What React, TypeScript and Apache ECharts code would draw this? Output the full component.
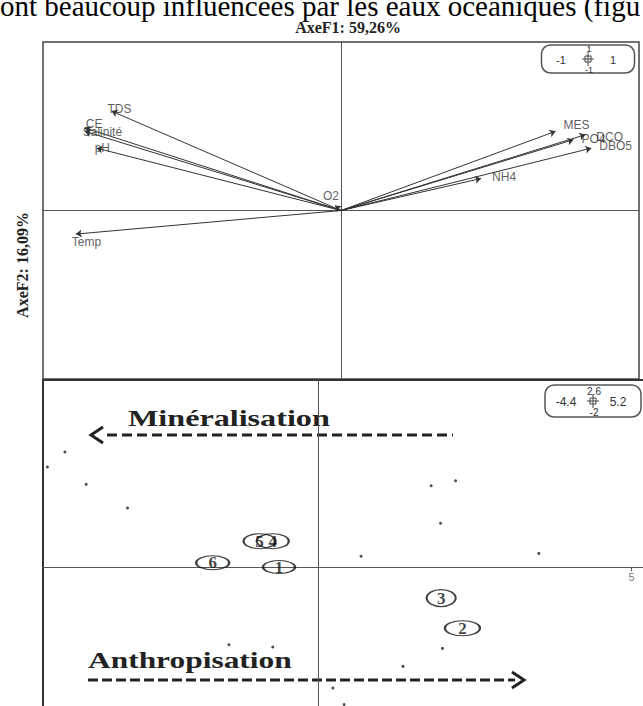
import React, { useEffect, useRef } from 'react';
import * as echarts from 'echarts';

// ---- Data: variables on the correlation circle (F1 x F2) ----
const VARIABLES = ['TDS', 'CE', 'Salinité', 'pH', 'Temp', 'O2', 'MES', 'DCO', 'PO4', 'DBO5', 'NH4'];
const VAR_F1 = [-0.77, -0.86, -0.86, -0.82, -0.89, -0.02, 0.72, 0.82, 0.78, 0.84, 0.47];
const VAR_F2 = [0.59, 0.49, 0.47, 0.37, -0.14, 0.03, 0.47, 0.45, 0.42, 0.37, 0.19];

// ---- Data: labelled stations (individuals) ----
const STATIONS = ['5', '4', '6', '1', '3', '2'];
const STATION_F1 = [-0.94, -0.73, -1.69, -0.63, 1.96, 2.3];
const STATION_F2 = [0.36, 0.36, 0.06, 0.0, -0.43, -0.85];

// ---- Data: unlabelled observations ----
const OBS_F1 = [-4.05, -4.33, -3.71, -3.05, 1.8, 2.19, 1.95, 0.68, 3.52, -1.43, -0.73, 1.98, 1.35, 0.23, 0.41];
const OBS_F2 = [1.6, 1.39, 1.15, 0.82, 1.13, 1.2, 0.61, 0.15, 0.19, -1.08, -1.11, -1.13, -1.38, -1.68, -1.91];

// ---- Axis ranges / ticks ----
const CIRCLE_RANGE = [-1, 1];
const F1_RANGE = [-4.4, 5.2];
const F2_RANGE = [-2, 2.6];
const F1_TICKS = [5];

// ---- Texts ----
const HEADER = 'ont beaucoup influencées par les eaux océaniques (figu';
const AXIS_F1_TITLE = 'AxeF1: 59,26%';
const AXIS_F2_TITLE = 'AxeF2: 16,09%';
const ARROW_LEFT_TEXT = 'Minéralisation';
const ARROW_RIGHT_TEXT = 'Anthropisation';

// ---- Styles (label offsets in px, ellipse sizes in px) ----
const VAR_LABEL_OFFSET: Record<string, [number, number]> = {
  TDS: [-4, -2], CE: [1, -4], 'Salinité': [-2, 1], pH: [-2, 0], Temp: [-4, 8], O2: [-12, -9],
  MES: [8, -6], DCO: [11, 2], PO4: [8, -1], DBO5: [8, -2], NH4: [11, -1],
};
const STATION_SIZE: Record<string, [number, number]> = {
  '5': [32, 15], '4': [32, 15], '6': [33, 14], '1': [32, 13], '3': [29, 17], '2': [35, 15],
};

const SERIF = "'Liberation Serif', 'Times New Roman', serif";
const SANS = "'Liberation Sans', Arial, sans-serif";
const ELLIPSE = 'path://M0,10A10,10,0,1,1,20,10A10,10,0,1,1,0,10Z';

export default function App() {
  const ref = useRef<HTMLDivElement>(null);

  useEffect(() => {
    const chart = echarts.init(ref.current!, null, { renderer: 'svg' });

    const plainAxis = (grid: number, range: number[]) => ({
      gridIndex: grid,
      type: 'value',
      min: range[0],
      max: range[1],
      axisLine: { show: true, onZero: true, lineStyle: { color: '#555', width: 1 } },
      axisTick: { show: false },
      axisLabel: { show: false },
      splitLine: { show: false },
    });

    const fmt = (v: number) => String(v);

    const scaleBox = (cx: number, cy: number, w: number, h: number, l: string, r: string, t: string, b: string, fs: number) => [
      { type: 'rect', shape: { x: cx - w / 2, y: cy - h / 2, width: w, height: h, r: 9 }, style: { fill: 'none', stroke: '#555', lineWidth: 1.5 } },
      { type: 'text', x: cx - 27, y: cy + 1, style: { text: l, fontSize: fs, fontFamily: SANS, fill: '#333', align: 'center', verticalAlign: 'middle' } },
      { type: 'text', x: cx + 25, y: cy + 1, style: { text: r, fontSize: fs, fontFamily: SANS, fill: '#333', align: 'center', verticalAlign: 'middle' } },
      { type: 'text', x: cx + 1, y: cy - 10, style: { text: t, fontSize: fs - 2, fontFamily: SANS, fill: '#333', align: 'center', verticalAlign: 'middle' } },
      { type: 'text', x: cx + 1, y: cy + 11, style: { text: b, fontSize: fs - 2, fontFamily: SANS, fill: '#333', align: 'center', verticalAlign: 'middle' } },
      { type: 'line', shape: { x1: cx - 6, y1: cy, x2: cx + 6, y2: cy }, style: { stroke: '#444', lineWidth: 1 } },
      { type: 'line', shape: { x1: cx, y1: cy - 7, x2: cx, y2: cy + 7 }, style: { stroke: '#444', lineWidth: 1 } },
      { type: 'rect', shape: { x: cx - 3, y: cy - 3, width: 6, height: 6 }, style: { fill: 'none', stroke: '#444', lineWidth: 1 } },
    ];

    const option: any = {
      animation: false,
      backgroundColor: '#fff',
      grid: [
        { left: 43, top: 42, width: 596, height: 337, show: true, borderColor: '#444', borderWidth: 1.5, backgroundColor: 'transparent', outerBoundsMode: 'none', containLabel: false },
        { left: 43, top: 380, width: 601, height: 331, show: true, borderColor: '#333', borderWidth: 2, backgroundColor: 'transparent', outerBoundsMode: 'none', containLabel: false },
      ],
      xAxis: [
        plainAxis(0, CIRCLE_RANGE),
        {
          ...plainAxis(1, F1_RANGE),
          axisTick: { show: true, customValues: F1_TICKS, length: 4, lineStyle: { color: '#555' } },
        },
      ],
      yAxis: [plainAxis(0, CIRCLE_RANGE), plainAxis(1, F2_RANGE)],
      series: [
        {
          type: 'lines',
          coordinateSystem: 'cartesian2d',
          xAxisIndex: 0,
          yAxisIndex: 0,
          symbol: ['none', 'arrow'],
          symbolSize: 6,
          lineStyle: { color: '#333', width: 1, opacity: 1 },
          data: VARIABLES.map((n, i) => ({ name: n, coords: [[0, 0], [VAR_F1[i], VAR_F2[i]]] })),
          silent: true,
          z: 3,
        },
        {
          type: 'scatter',
          xAxisIndex: 0,
          yAxisIndex: 0,
          symbolSize: 0,
          itemStyle: { color: 'rgba(0,0,0,0)' },
          data: VARIABLES.map((n, i) => ({
            name: n,
            value: [VAR_F1[i], VAR_F2[i]],
            label: { position: VAR_LABEL_OFFSET[n] },
          })),
          label: {
            show: true,
            formatter: '{b}',
            align: 'left',
            verticalAlign: 'middle',
            fontFamily: SANS,
            fontSize: 12,
            color: '#333',
          },
          z: 4,
        },
        {
          // tick label(s) of the F1 axis, placed on the zero line
          type: 'scatter',
          xAxisIndex: 1,
          yAxisIndex: 1,
          symbolSize: 0,
          itemStyle: { color: 'rgba(0,0,0,0)' },
          silent: true,
          data: F1_TICKS.map((t) => ({ name: String(t), value: [t, 0] })),
          label: {
            show: true,
            position: 'bottom',
            distance: 4,
            formatter: '{b}',
            fontFamily: SANS,
            fontSize: 11,
            color: '#555',
          },
        },
        {
          type: 'scatter',
          xAxisIndex: 1,
          yAxisIndex: 1,
          symbol: 'circle',
          symbolSize: 3,
          itemStyle: { color: '#222' },
          data: OBS_F1.map((x, i) => [x, OBS_F2[i]]),
          z: 3,
        },
        {
          type: 'scatter',
          xAxisIndex: 1,
          yAxisIndex: 1,
          symbol: ELLIPSE,
          itemStyle: { color: 'rgba(0,0,0,0)', borderColor: '#111', borderWidth: 1.6 },
          data: STATIONS.map((n, i) => ({
            name: n,
            value: [STATION_F1[i], STATION_F2[i]],
            symbolSize: STATION_SIZE[n],
          })),
          label: {
            show: true,
            position: 'inside',
            formatter: '{b}',
            fontFamily: SERIF,
            fontWeight: 'bold',
            fontSize: 17,
            color: '#111',
          },
          z: 4,
        },
      ],
      graphic: [
        { type: 'text', x: 0, y: 6, style: { text: HEADER, fontFamily: SERIF, fontSize: 29, fill: '#000', align: 'left', verticalAlign: 'middle' } },
        { type: 'text', x: 348, y: 27, style: { text: AXIS_F1_TITLE, fontFamily: SERIF, fontWeight: 'bold', fontSize: 16, fill: '#222', align: 'center', verticalAlign: 'middle' } },
        { type: 'text', x: 22, y: 265, rotation: Math.PI / 2, style: { text: AXIS_F2_TITLE, fontFamily: SERIF, fontWeight: 'bold', fontSize: 16, fill: '#222', align: 'center', verticalAlign: 'middle' } },
        ...scaleBox(588, 59, 93, 28, fmt(CIRCLE_RANGE[0]), fmt(CIRCLE_RANGE[1]), fmt(CIRCLE_RANGE[1]), fmt(CIRCLE_RANGE[0]), 11),
        ...scaleBox(593, 401, 96, 32, fmt(F1_RANGE[0]), fmt(F1_RANGE[1]), fmt(F2_RANGE[1]), fmt(F2_RANGE[0]), 12),
        { type: 'text', x: 128, y: 418, scaleX: 1.34, style: { text: ARROW_LEFT_TEXT, fontFamily: SERIF, fontWeight: 'bold', fontSize: 24, fill: '#222', align: 'left', verticalAlign: 'middle' } },
        { type: 'line', shape: { x1: 107, y1: 435, x2: 453, y2: 435 }, style: { stroke: '#222', lineWidth: 3, lineDash: [10, 5] } },
        { type: 'polyline', shape: { points: [[103, 427], [91, 435], [103, 443]] }, style: { stroke: '#222', lineWidth: 3, fill: 'none' } },
        { type: 'text', x: 88, y: 660, scaleX: 1.31, style: { text: ARROW_RIGHT_TEXT, fontFamily: SERIF, fontWeight: 'bold', fontSize: 24, fill: '#222', align: 'left', verticalAlign: 'middle' } },
        { type: 'line', shape: { x1: 88, y1: 680, x2: 515, y2: 680 }, style: { stroke: '#222', lineWidth: 3, lineDash: [10, 4] } },
        { type: 'polyline', shape: { points: [[512, 672], [524, 680], [512, 688]] }, style: { stroke: '#222', lineWidth: 3, fill: 'none' } },
      ],
    };

    chart.setOption(option);
    return () => chart.dispose();
  }, []);

  return (
    <div
      ref={ref}
      style={{ position: 'absolute', left: 0, top: 0, width: 643, height: 706, background: '#fff' }}
    />
  );
}
